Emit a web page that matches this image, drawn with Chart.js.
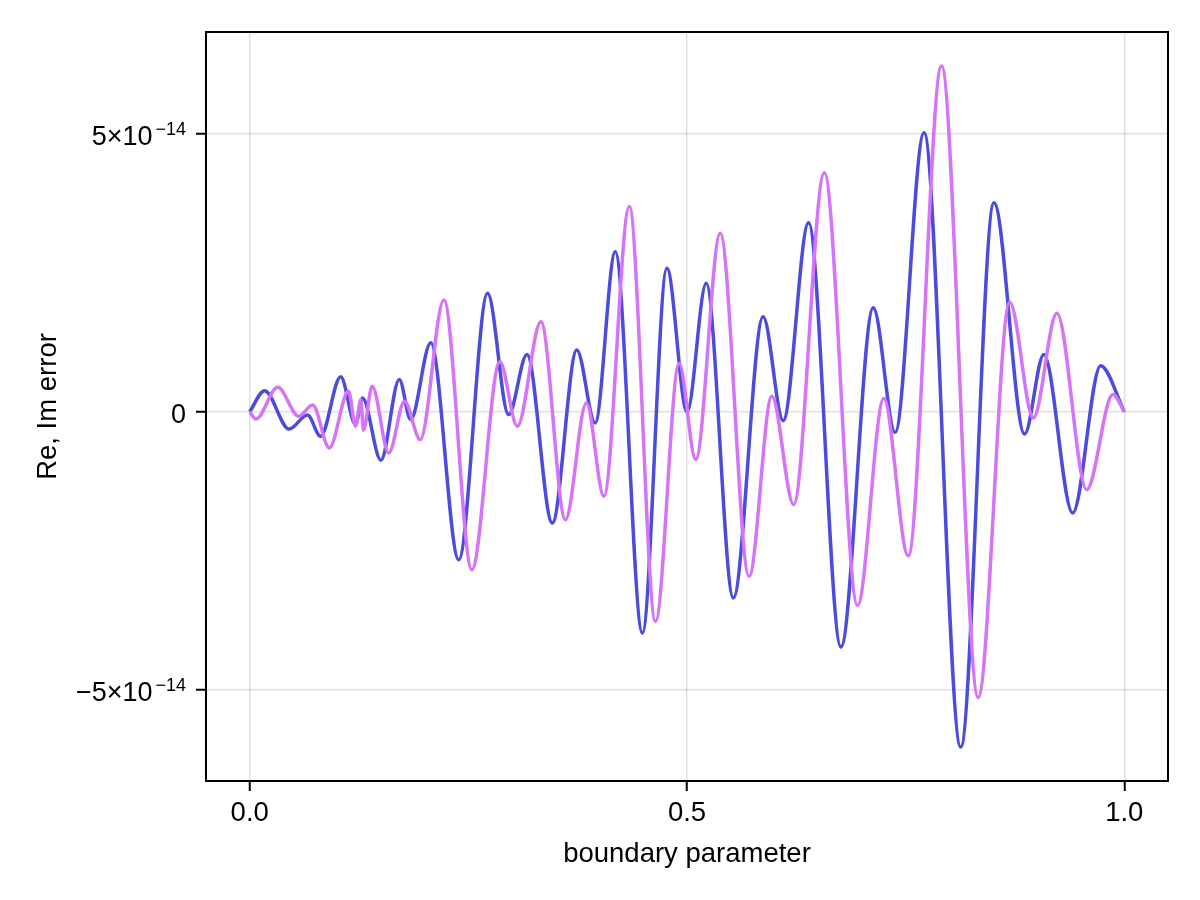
<!DOCTYPE html>
<html>
<head>
<meta charset="utf-8">
<script src="https://cdn.jsdelivr.net/npm/chart.js@4.4.1/dist/chart.umd.min.js"></script>
<style>
  html, body { margin: 0; padding: 0; background: #fff; }
  #grafico { display: block; }
</style>
</head>
<body>
<canvas id="grafico" width="1200" height="900"></canvas>
<script>
const ESCALA = 1e-14; // los valores de abajo van en unidades de 1e-14
const FUENTE = "'Liberation Sans', Arial, sans-serif";

// parte real (azul)
const reX = [0, 0.017, 0.045, 0.066, 0.081, 0.104, 0.121, 0.129, 0.150, 0.171, 0.184, 0.207,
    0.239, 0.272, 0.296, 0.317, 0.346, 0.374, 0.395, 0.418, 0.449, 0.477, 0.500, 0.522,
    0.553, 0.587, 0.610, 0.639, 0.676, 0.713, 0.738, 0.771, 0.813, 0.851, 0.886, 0.908,
    0.941, 0.973, 1.0];
const reY = [0, 0.38, -0.31, -0.06, -0.44, 0.63, -0.23, 0.25, -0.87, 0.58, -0.14, 1.24,
    -2.66, 2.13, -0.05, 1.03, -2.00, 1.11, -0.20, 2.88, -3.98, 2.58, 0.00, 2.31,
    -3.35, 1.71, -0.16, 3.40, -4.23, 1.87, -0.37, 5.02, -6.03, 3.76, -0.40, 1.03,
    -1.82, 0.83, 0];

// parte imaginaria (morado)
const imX = [0, 0.007, 0.032, 0.056, 0.072, 0.091, 0.113, 0.121, 0.127, 0.130, 0.140, 0.159,
    0.177, 0.195, 0.222, 0.254, 0.286, 0.306, 0.333, 0.361, 0.385, 0.405, 0.434, 0.464,
    0.491, 0.510, 0.538, 0.571, 0.597, 0.622, 0.657, 0.695, 0.725, 0.753, 0.791, 0.833,
    0.869, 0.896, 0.923, 0.957, 0.987, 1.0];
const imY = [0, -0.13, 0.44, -0.08, 0.12, -0.65, 0.37, -0.26, 0.22, -0.33, 0.46, -0.74,
    0.19, -0.50, 2.01, -2.84, 0.90, -0.26, 1.62, -1.94, 0.16, -1.52, 3.69, -3.77,
    0.87, -0.86, 3.21, -2.96, 0.28, -1.67, 4.30, -3.48, 0.24, -2.59, 6.22, -5.14,
    1.97, -0.11, 1.77, -1.40, 0.31, 0];

const xTicks = [0, 0.5, 1.0];
const xTickLabels = ['0.0', '0.5', '1.0'];
const yTicks = [-5, 0, 5];
const yTickBase = ['\u22125\u00d710', '0', '5\u00d710']; // mantisa
const yTickExp = ['\u221214', '', '\u221214'];          // exponente (superindice)

function puntos(xs, ys) {
    return xs.map((x, i) => ({ x: x, y: ys[i] * ESCALA }));
}

// marco negro alrededor del area del grafico
const marco = {
    id: 'marco',
    afterDraw(chart) {
        const { ctx, chartArea: a } = chart;
        ctx.save();
        ctx.strokeStyle = '#000';
        ctx.lineWidth = 2;
        ctx.strokeRect(a.left, a.top, a.right - a.left, a.bottom - a.top);
        ctx.restore();
    }
};

// etiquetas del eje y con el exponente arriba
const etiquetasY = {
    id: 'etiquetasY',
    afterDraw(chart) {
        const ctx = chart.ctx;
        const escalaY = chart.scales.y;
        const derecha = escalaY.right - 10 - 10;
        ctx.save();
        ctx.fillStyle = '#000';
        ctx.textAlign = 'left';
        ctx.textBaseline = 'alphabetic';
        yTicks.forEach((v, i) => {
            const py = escalaY.getPixelForValue(v * ESCALA);
            ctx.font = '18px ' + FUENTE;
            const wExp = yTickExp[i] ? ctx.measureText(yTickExp[i]).width : 0;
            const hueco = yTickExp[i] ? 3 : 0;
            ctx.font = '27px ' + FUENTE;
            const wBase = ctx.measureText(yTickBase[i]).width;
            const x0 = derecha - wExp - hueco - wBase;
            ctx.fillText(yTickBase[i], x0, py + 11);
            if (yTickExp[i]) {
                ctx.font = '18px ' + FUENTE;
                ctx.fillText(yTickExp[i], x0 + wBase + hueco, py + 1);
            }
        });
        ctx.restore();
    }
};

Chart.defaults.font.family = FUENTE;
Chart.defaults.font.size = 27.5;
Chart.defaults.color = '#000';

const gridComun = {
    color: 'rgba(0, 0, 0, 0.12)',
    lineWidth: 1.5,
    tickColor: '#000',
    tickLength: 10,
    tickWidth: 2
};

const ctxGrafico = document.getElementById('grafico');
const chart = new Chart(ctxGrafico, {
    type: 'line',
    data: {
        datasets: [{
            label: 'Re',
            data: puntos(reX, reY),
            borderColor: 'rgb(75, 75, 220)',
            borderWidth: 3.5,
            pointRadius: 0,
            cubicInterpolationMode: 'monotone',
            order: 1
        }, {
            label: 'Im',
            data: puntos(imX, imY),
            borderColor: 'rgb(214, 116, 247)',
            borderWidth: 3.5,
            pointRadius: 0,
            cubicInterpolationMode: 'monotone',
            order: 0
        }]
    },
    options: {
        responsive: false,
        animation: false,
        devicePixelRatio: 1,
        layout: { padding: { top: 32, right: 32, left: 0, bottom: 0 } },
        plugins: {
            legend: { display: false },
            tooltip: { enabled: false }
        },
        scales: {
            x: {
                type: 'linear',
                min: -0.05,
                max: 1.05,
                grid: gridComun,
                border: { display: false },
                afterBuildTicks: (scale) => { scale.ticks = xTicks.map(v => ({ value: v })); },
                afterFit: (scale) => { scale.height = 119; },
                ticks: {
                    padding: 6,
                    maxRotation: 0,
                    callback: (value) => xTickLabels[xTicks.indexOf(value)]
                },
                title: {
                    display: true,
                    text: 'boundary parameter',
                    padding: { top: 0, bottom: 29 }
                }
            },
            y: {
                type: 'linear',
                min: -6.64 * ESCALA,
                max: 6.83 * ESCALA,
                grid: gridComun,
                border: { display: false },
                afterBuildTicks: (scale) => { scale.ticks = yTicks.map(v => ({ value: v * ESCALA })); },
                afterFit: (scale) => { scale.width = 206; },
                ticks: { display: false },
                title: {
                    display: true,
                    text: 'Re, Im error',
                    padding: { top: 32, bottom: 0 }
                }
            }
        }
    },
    plugins: [marco, etiquetasY]
});
</script>
</body>
</html>
